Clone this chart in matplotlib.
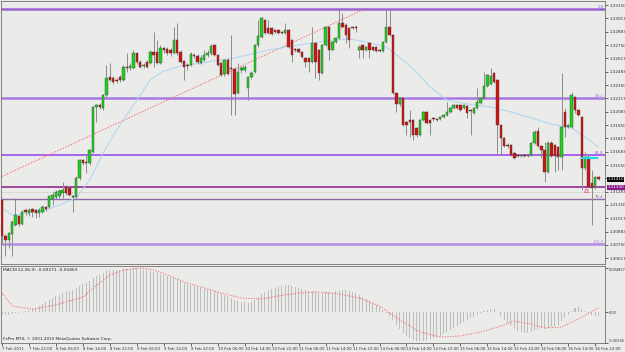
import numpy as np
import matplotlib.pyplot as plt

# H1 candles, 7 Feb 2011 14:00 .. 16 Feb 22:00
opens = [1.3120,1.3084,1.3080,1.3086,1.3095,1.3104,1.3096,1.3110,1.3107,1.3111,
         1.3110,1.3107,1.3108,1.3113,1.3113,1.3121,1.3123,1.3124,1.3127,1.3133,
         1.3132,1.3124,1.3123,1.3142,1.3160,1.3158,1.3157,1.3168,1.3213,1.3215,
         1.3212,1.3225,1.3243,1.3242,1.3240,1.3243,1.3240,1.3253,1.3252,1.3252,
         1.3267,1.3258,1.3254,1.3258,1.3257,1.3268,1.3268,1.3257,1.3272,1.3271,
         1.3270,1.3267,1.3280,1.3268,1.3259,1.3255,1.3255,1.3265,1.3264,1.3257,
         1.3260,1.3265,1.3267,1.3275,1.3265,1.3257,1.3246,1.3260,1.3252,1.3251,
         1.3227,1.3250,1.3250,1.3232,1.3243,1.3248,1.3275,1.3283,1.3300,1.3292,
         1.3292,1.3290,1.3290,1.3288,1.3287,1.3290,1.3280,1.3271,1.3271,1.3268,
         1.3262,1.3262,1.3258,1.3277,1.3270,1.3247,1.3275,1.3293,1.3270,1.3278,
         1.3282,1.3297,1.3295,1.3292,1.3293,1.3293,1.3270,1.3275,1.3270,1.3277,
         1.3273,1.3273,1.3270,1.3269,1.3278,1.3293,1.3285,1.3227,1.3216,1.3222,
         1.3198,1.3200,1.3200,1.3192,1.3185,1.3200,1.3208,1.3200,1.3202,1.3201,
         1.3201,1.3203,1.3205,1.3208,1.3212,1.3215,1.3215,1.3212,1.3214,1.3210,
         1.3207,1.3212,1.3217,1.3222,1.3234,1.3236,1.3247,1.3240,1.3195,1.3182,
         1.3175,1.3175,1.3167,1.3165,1.3164,1.3165,1.3164,1.3165,1.3177,1.3189,
         1.3174,1.3170,1.3148,1.3177,1.3175,1.3173,1.3163,1.3208,1.3193,1.3193,
         1.3223,1.3210,1.3203,1.3152,1.3163,1.3137,1.3133,1.3143]
highs = [1.3122,1.3086,1.3088,1.3100,1.3122,1.3105,1.3110,1.3112,1.3112,1.3112,
         1.3111,1.3112,1.3115,1.3114,1.3125,1.3128,1.3130,1.3131,1.3138,1.3135,
         1.3134,1.3125,1.3144,1.3161,1.3161,1.3165,1.3171,1.3214,1.3216,1.3217,
         1.3226,1.3255,1.3257,1.3244,1.3242,1.3245,1.3255,1.3267,1.3257,1.3270,
         1.3268,1.3260,1.3257,1.3260,1.3270,1.3288,1.3280,1.3275,1.3273,1.3273,
         1.3272,1.3293,1.3297,1.3270,1.3260,1.3257,1.3268,1.3267,1.3266,1.3265,
         1.3270,1.3270,1.3276,1.3276,1.3266,1.3258,1.3261,1.3262,1.3285,1.3253,
         1.3257,1.3254,1.3255,1.3244,1.3249,1.3276,1.3300,1.3303,1.3301,1.3300,
         1.3293,1.3291,1.3291,1.3289,1.3297,1.3291,1.3281,1.3272,1.3272,1.3269,
         1.3263,1.3263,1.3293,1.3278,1.3271,1.3276,1.3294,1.3294,1.3279,1.3283,
         1.3312,1.3307,1.3297,1.3293,1.3294,1.3295,1.3275,1.3276,1.3274,1.3278,
         1.3274,1.3274,1.3271,1.3279,1.3310,1.3310,1.3286,1.3228,1.3223,1.3223,
         1.3199,1.3210,1.3201,1.3193,1.3201,1.3209,1.3209,1.3201,1.3203,1.3202,
         1.3204,1.3206,1.3218,1.3213,1.3216,1.3216,1.3216,1.3216,1.3215,1.3211,
         1.3213,1.3232,1.3223,1.3248,1.3246,1.3252,1.3248,1.3241,1.3196,1.3183,
         1.3177,1.3176,1.3168,1.3166,1.3166,1.3166,1.3166,1.3178,1.3190,1.3193,
         1.3175,1.3178,1.3179,1.3179,1.3176,1.3174,1.3247,1.3212,1.3196,1.3228,
         1.3224,1.3211,1.3204,1.3168,1.3165,1.3150,1.3144,1.3144]
lows = [1.3076,1.3064,1.3072,1.3064,1.3094,1.3094,1.3095,1.3105,1.3104,1.3103,
        1.3102,1.3103,1.3107,1.3109,1.3112,1.3115,1.3121,1.3122,1.3122,1.3125,
        1.3124,1.3108,1.3122,1.3140,1.3155,1.3147,1.3155,1.3167,1.3198,1.3211,
        1.3210,1.3223,1.3239,1.3236,1.3237,1.3238,1.3239,1.3248,1.3250,1.3251,
        1.3256,1.3252,1.3252,1.3252,1.3256,1.3253,1.3256,1.3256,1.3267,1.3265,
        1.3264,1.3266,1.3265,1.3257,1.3240,1.3250,1.3254,1.3262,1.3256,1.3256,
        1.3259,1.3263,1.3265,1.3264,1.3254,1.3244,1.3244,1.3245,1.3205,1.3205,
        1.3226,1.3247,1.3248,1.3220,1.3241,1.3247,1.3273,1.3282,1.3286,1.3286,
        1.3285,1.3287,1.3286,1.3286,1.3286,1.3272,1.3258,1.3268,1.3267,1.3262,
        1.3253,1.3248,1.3257,1.3242,1.3240,1.3246,1.3274,1.3260,1.3270,1.3277,
        1.3281,1.3292,1.3277,1.3272,1.3291,1.3288,1.3262,1.3262,1.3269,1.3262,
        1.3269,1.3268,1.3268,1.3268,1.3277,1.3284,1.3226,1.3208,1.3214,1.3194,
        1.3185,1.3183,1.3180,1.3183,1.3184,1.3199,1.3196,1.3185,1.3199,1.3199,
        1.3200,1.3202,1.3204,1.3207,1.3211,1.3211,1.3209,1.3211,1.3202,1.3185,
        1.3206,1.3211,1.3216,1.3221,1.3233,1.3235,1.3237,1.3167,1.3165,1.3173,
        1.3172,1.3164,1.3161,1.3163,1.3163,1.3163,1.3163,1.3164,1.3176,1.3173,
        1.3162,1.3138,1.3147,1.3163,1.3148,1.3150,1.3150,1.3183,1.3192,1.3192,
        1.3207,1.3204,1.3130,1.3150,1.3132,1.3095,1.3131,1.3140]
closes = [1.3084,1.3080,1.3087,1.3098,1.3105,1.3096,1.3108,1.3108,1.3110,1.3108,
          1.3107,1.3110,1.3113,1.3111,1.3124,1.3125,1.3128,1.3129,1.3130,1.3127,
          1.3125,1.3123,1.3142,1.3160,1.3157,1.3157,1.3170,1.3213,1.3215,1.3213,
          1.3225,1.3242,1.3240,1.3238,1.3239,1.3240,1.3253,1.3252,1.3254,1.3267,
          1.3258,1.3253,1.3255,1.3253,1.3268,1.3265,1.3257,1.3272,1.3270,1.3267,
          1.3267,1.3280,1.3267,1.3258,1.3253,1.3254,1.3266,1.3264,1.3258,1.3262,
          1.3265,1.3267,1.3274,1.3265,1.3255,1.3245,1.3260,1.3246,1.3251,1.3226,
          1.3248,1.3252,1.3253,1.3243,1.3247,1.3275,1.3284,1.3302,1.3287,1.3287,
          1.3286,1.3288,1.3287,1.3287,1.3290,1.3273,1.3265,1.3270,1.3268,1.3263,
          1.3258,1.3258,1.3277,1.3258,1.3247,1.3275,1.3293,1.3270,1.3278,1.3282,
          1.3297,1.3293,1.3285,1.3280,1.3292,1.3292,1.3273,1.3270,1.3273,1.3270,
          1.3270,1.3269,1.3269,1.3278,1.3293,1.3285,1.3227,1.3216,1.3222,1.3195,
          1.3195,1.3198,1.3185,1.3185,1.3200,1.3208,1.3197,1.3197,1.3201,1.3200,
          1.3203,1.3205,1.3208,1.3212,1.3215,1.3212,1.3210,1.3215,1.3207,1.3209,
          1.3212,1.3218,1.3222,1.3234,1.3245,1.3244,1.3238,1.3195,1.3182,1.3174,
          1.3174,1.3165,1.3162,1.3164,1.3165,1.3164,1.3165,1.3177,1.3188,1.3174,
          1.3170,1.3148,1.3177,1.3164,1.3164,1.3163,1.3193,1.3193,1.3195,1.3225,
          1.3210,1.3205,1.3152,1.3163,1.3133,1.3132,1.3143,1.3141]

# light blue moving average, read at a few bars
ma_idx = [0,3,8,13,17,22,26,30,34,40,44,48,53,59,69,79,88,98,103,108,114,119,
          123,127,132,138,145,151,157,163,169,173,177]
ma_vals = [1.3112,1.3105,1.3107,1.3110,1.3115,1.3122,1.3140,1.3167,1.3190,1.3220,
           1.3240,1.3249,1.3254,1.3257,1.3262,1.3270,1.3275,1.3280,1.3281,1.3278,
           1.3273,1.3260,1.3248,1.3233,1.3220,1.3216,1.3213,1.3208,1.3202,1.3196,
           1.3192,1.3183,1.3173]

# red dotted trend line
trend_idx = [-1, 107]
trend_vals = [1.3142, 1.3310]

# fibo levels
fib_levels = [1.3311, 1.3222, 1.3165, 1.3121, 1.3076]
fib_labels = ['0.0', '38.2', '61.8', '76.4', '100.0']
fib_colors = ['#9b62d0', '#a878e4', '#9a4cf0', '#8a6aa8', '#b48ae8']
fib_widths = [1.8, 1.8, 1.2, 1.0, 1.8]
hline_level = 1.3133
ask_level = 1.3128
cyan_level = 1.3162
cyan_idx = [172, 176.6]
arrow_idx, arrow_price = 173.3, 1.3130

price_ticks = ['1.33150','1.33017','1.32883','1.32750','1.32617','1.32483','1.32350',
               '1.32217','1.32083','1.31950','1.31817','1.31683','1.31550','1.31417',
               '1.31283','1.31150','1.31017','1.30883','1.30750','1.30617']

# MACD(12,26,9) main (histogram) and signal
macd_main = [-0.00022,-0.00033,-0.00033,-0.00022,-0.00011,-0.00011,0.0,0.00011,0.00022,0.00033,
             0.00044,0.00066,0.00088,0.0011,0.00132,0.00154,0.00176,0.00187,0.00209,0.0022,
             0.00231,0.00242,0.00264,0.00286,0.00308,0.00319,0.00341,0.00374,0.00396,0.00407,
             0.00429,0.00451,0.00462,0.00462,0.00462,0.00462,0.00473,0.00473,0.00473,0.00484,
             0.00484,0.00473,0.00462,0.00462,0.00451,0.0044,0.00429,0.00418,0.00407,0.00396,
             0.00385,0.00374,0.00363,0.00341,0.00319,0.00308,0.00297,0.00286,0.00275,0.00264,
             0.00253,0.00253,0.00242,0.00231,0.0022,0.00198,0.00187,0.00176,0.00154,0.00132,
             0.00121,0.0011,0.0011,0.00099,0.0011,0.00132,0.00165,0.00198,0.0022,0.00242,
             0.00253,0.00264,0.00275,0.00286,0.00297,0.00297,0.00286,0.00275,0.00264,0.00253,
             0.00242,0.00231,0.00231,0.0022,0.00209,0.00209,0.0022,0.0022,0.0022,0.00231,
             0.00242,0.00242,0.00242,0.00231,0.0022,0.00209,0.00187,0.00165,0.00143,0.00121,
             0.00099,0.00077,0.00055,0.00022,-0.00011,-0.00044,-0.00088,-0.00143,-0.00187,-0.00231,
             -0.00264,-0.00286,-0.00308,-0.00319,-0.00319,-0.00319,-0.00308,-0.00297,-0.00286,-0.00275,
             -0.00264,-0.00242,-0.0022,-0.00198,-0.00176,-0.00154,-0.00132,-0.0011,-0.00088,-0.00066,
             -0.00055,-0.00033,-0.00011,0.00011,0.00022,0.00033,0.00033,0.0,-0.00044,-0.00088,
             -0.00121,-0.00154,-0.00187,-0.00209,-0.0022,-0.00231,-0.00231,-0.0022,-0.00198,-0.00187,
             -0.00176,-0.00187,-0.00176,-0.00165,-0.00154,-0.00143,-0.00099,-0.00066,-0.00033,0.00011,
             0.00044,0.00066,0.00033,0.00011,-0.00011,-0.00033,-0.00044,-0.00044]
signal_idx = [0,3,9,16,24,29,32,36,41,45,50,54,59,65,71,77,82,88,94,100,106,112,
              118,124,130,136,142,148,152,157,161,166,171,177]
signal_vals = [0.00209,0.00066,0.00033,0.00077,0.00165,0.00319,0.00407,0.00462,0.00484,
               0.00462,0.00396,0.0033,0.00275,0.00209,0.00154,0.00143,0.00176,0.00209,
               0.0022,0.00198,0.00154,0.00066,-0.00088,-0.0022,-0.00275,-0.00264,-0.0022,
               -0.00154,-0.00099,-0.00132,-0.00176,-0.00165,-0.00077,0.00044]

date_labels = ['7 Feb 2011','7 Feb 22:00','8 Feb 06:00','8 Feb 14:00','8 Feb 22:00',
               '9 Feb 06:00','9 Feb 14:00','9 Feb 22:00','10 Feb 06:00','10 Feb 14:00',
               '10 Feb 22:00','11 Feb 06:00','11 Feb 14:00','11 Feb 22:00','14 Feb 06:00',
               '14 Feb 14:00','14 Feb 22:00','15 Feb 06:00','15 Feb 14:00','15 Feb 22:00',
               '16 Feb 06:00','16 Feb 14:00','16 Feb 22:00']

bg = '#ebebe9'
W, H = 625, 352
fig = plt.figure(figsize=(W/100, H/100), dpi=100, facecolor=bg)
ax = fig.add_axes([1/W, 1-264/H, 604/W, 263/H], facecolor=bg)
ax2 = fig.add_axes([1/W, 1-343/H, 604/W, 77/H], facecolor=bg, sharex=ax)

x = np.arange(len(opens))
o = np.array(opens); c = np.array(closes)

# fibo + horizontal lines
for lev, lab, col, lw in zip(fib_levels, fib_labels, fib_colors, fib_widths):
    ax.axhline(lev, color=col, lw=lw, zorder=1)
    ax.text(178.5, lev+0.00002, lab, color=col, fontsize=2.8, ha='right', va='bottom', zorder=5)
ax.axhline(hline_level, color='#8a1a8a', lw=1.1, zorder=1)
ax.axhline(ask_level, color='#b0b0b0', lw=0.6, ls=(0, (1, 1.5)), zorder=1)

ax.plot(trend_idx, trend_vals, color='#f07070', lw=0.7, ls=(0, (1.5, 1.5)), zorder=2)
ax.plot(ma_idx, ma_vals, color='#a9d6f0', lw=0.7, zorder=2)

# candles
ax.vlines(x, lows, highs, color='#8c8c8c', lw=0.7, zorder=3)
up = c >= o
body_h = np.maximum(np.abs(c-o), 0.00008)
ax.bar(x, body_h, bottom=np.minimum(o, c), width=0.72,
       color=np.where(up, '#19d419', '#d41010'), edgecolor='#404040', lw=0.3, zorder=4)

ax.plot(cyan_idx, [cyan_level, cyan_level], color='#22d8e8', lw=1.6, zorder=5)
ax.plot(arrow_idx, arrow_price, marker='^', ms=3, mfc='none', mec='#f06090', mew=0.6, zorder=6)

ax.set_xlim(-0.3, 178.9)
ax.set_ylim(1.3056, 1.3319)
# the label under the current-price box is hidden by the box, as in MT4
shown = [t if t != '1.31417' else '' for t in price_ticks]
ax.set_yticks([float(t) for t in price_ticks])
ax.set_yticklabels(shown)
ax.yaxis.tick_right()
ax.tick_params(axis='y', length=2, width=0.5, labelsize=3.0, pad=1.0, colors='#303030')
ax.tick_params(axis='x', bottom=False, labelbottom=False)
for s in ax.spines.values():
    s.set_color('#707070'); s.set_linewidth(0.6)

# price boxes on the scale
ytr = ax.get_yaxis_transform()
ax.text(1.004, closes[-1], '1.31410', transform=ytr, fontsize=3.0, color='white', va='center',
        ha='left', bbox=dict(boxstyle='square,pad=0.12', fc='black', ec='none'), clip_on=False)
ax.text(1.004, hline_level, '1.31330', transform=ytr, fontsize=3.0, color='white', va='center',
        ha='left', bbox=dict(boxstyle='square,pad=0.12', fc='#8a1a8a', ec='none'), clip_on=False)

# MACD window
ax2.bar(x, macd_main, width=0.3, color='#bdbdbd', zorder=2)
ax2.plot(signal_idx, signal_vals, color='#f06a6a', lw=0.7, ls=(0, (1.2, 1.5)), zorder=3)
ax2.set_ylim(-0.00341, 0.00506)
ax2.set_yticks([0.004857, 0.0, -0.003365])
ax2.set_yticklabels(['0.004857', '0.00', '-0.00336'])
ax2.yaxis.tick_right()
ax2.tick_params(axis='y', length=2, width=0.5, labelsize=2.5, pad=0.6, colors='#303030')
ax2.get_yticklabels()[0].set_va('top')
ax2.get_yticklabels()[-1].set_va('bottom')
ax2.set_xticks(np.arange(0, 177, 8))
ax2.set_xticklabels(date_labels, ha='left')
ax2.tick_params(axis='x', length=2, width=0.5, labelsize=2.8, pad=0.8, colors='#303030')
for s in ax2.spines.values():
    s.set_color('#707070'); s.set_linewidth(0.6)
ax2.text(0.004, 0.97, 'MACD(12,26,9) -0.00271 -0.00463', transform=ax2.transAxes,
         fontsize=3.2, va='top', color='#202020')
ax2.text(0.003, 0.02, 'FxPro MT4, \u00a9 2001-2010 MetaQuotes Software Corp.',
         transform=ax2.transAxes, fontsize=3.0, va='bottom', color='#202020')

fig.savefig('out.png', dpi=100, facecolor=bg)
